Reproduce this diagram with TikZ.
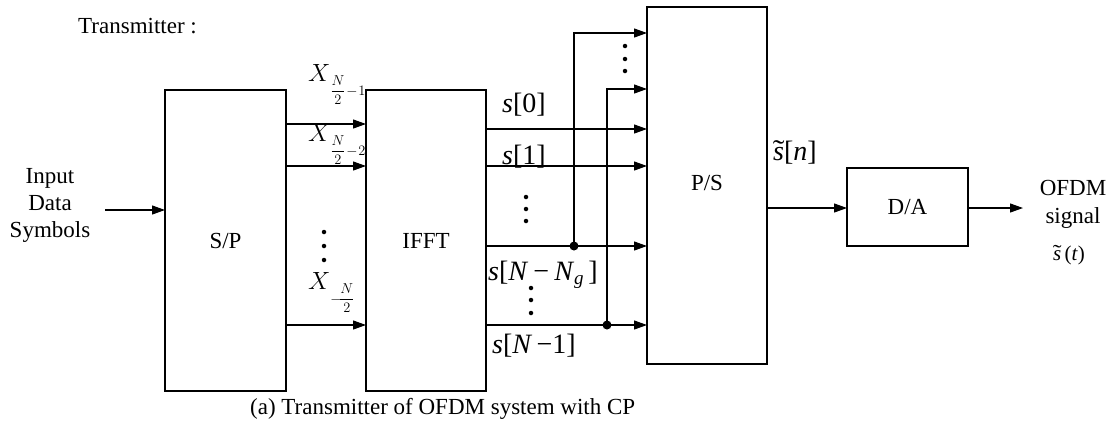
\documentclass[tikz,border=0pt]{standalone}
\usepackage{fontspec}
\usepackage{graphicx}
\setmainfont{Liberation Serif}
\usetikzlibrary{arrows.meta}
\newcommand{\fracsub}[1]{\raisebox{-14pt}{\fontsize{14}{15}\selectfont$\displaystyle #1$}}
\newcommand{\tils}{\ooalign{\textit{s}\cr\hidewidth\raisebox{0.02em}{\scalebox{1.25}[1]{\char"02DC}}\hidewidth\cr}}
\begin{document}
\begin{tikzpicture}[x=1pt,y=-1pt,
  blk/.style={draw, line width=1.3pt, inner sep=0pt, outer sep=0pt, font=\fontsize{23}{27}\selectfont},
  arr/.style={draw, line width=1.2pt, -{Triangle[length=13pt,width=9pt]}},
  ln/.style={draw, line width=1.2pt},
  jdot/.style={circle, fill, inner sep=0pt, minimum size=9pt},
  sdot/.style={circle, fill, inner sep=0pt, minimum size=4.5pt},
  txt/.style={font=\fontsize{23}{27}\selectfont, inner sep=0pt},
  slab/.style={font=\fontsize{28}{32}\selectfont, inner sep=0pt, anchor=base west}]
\useasboundingbox (0,0) rectangle (1118,421);

% blocks
\node[blk, minimum width=121pt, minimum height=301pt] (sp)   at (225.5,240.5) {S/P};
\node[blk, minimum width=120pt, minimum height=301pt] (ifft) at (426,240.5) {IFFT};
\node[blk, minimum width=120pt, minimum height=357pt] (ps)   at (707,185.5) {};
\node[txt] (pslab) at (707,183) {P/S};
\node[blk, minimum width=121pt, minimum height=78pt]  (da)   at (907.5,207) {D/A};

% level coordinates
\coordinate (yin) at (0,210);
\coordinate (ya) at (0,124);
\coordinate (yb) at (0,166);
\coordinate (yc) at (0,325);
\coordinate (y0) at (0,129);
\coordinate (y1) at (0,166);
\coordinate (yg) at (0,246);
\coordinate (yn) at (0,325);
\coordinate (yt1) at (0,33);
\coordinate (yt2) at (0,89);
\coordinate (yout) at (0,208);

% input
\coordinate (inA) at (105,210);
\node[txt, align=center] (intext) at (50,205) {Input\\Data\\Symbols};
\draw[arr] (inA) -- (sp.west |- yin);

% S/P -> IFFT
\draw[arr] (sp.east |- ya) -- (ifft.west |- ya);
\draw[arr] (sp.east |- yb) -- (ifft.west |- yb);
\draw[arr] (sp.east |- yc) -- (ifft.west |- yc);
\node[txt, anchor=base west] (xl1) at (308,81) {$X$\fracsub{\frac{N}{2}\!-\!1}};
\node[txt, anchor=base west] (xl2) at (308,141) {$X$\fracsub{\frac{N}{2}\!-\!2}};
\node[txt, anchor=base west] (xl3) at (308,289) {$X$\fracsub{-\!\frac{N}{2}}};
\node[sdot] (d1) at (324,232) {};
\node[sdot] (d2) at (324,246) {};
\node[sdot] (d3) at (324,260) {};

% IFFT -> P/S
\draw[arr] (ifft.east |- y0) -- (ps.west |- y0);
\draw[arr] (ifft.east |- y1) -- (ps.west |- y1);
\draw[arr] (ifft.east |- yg) -- (ps.west |- yg);
\draw[arr] (ifft.east |- yn) -- (ps.west |- yn);
\node[jdot] (j1) at (574,246) {};
\node[jdot] (j2) at (607,325) {};
\draw[arr] (j1.center) -- (j1.center |- yt1) -- (ps.west |- yt1);
\draw[arr] (j2.center) -- (j2.center |- yt2) -- (ps.west |- yt2);

\node[slab] (s0) at (502,112) {\textit{s}[0]};
\node[slab] (s1) at (502,164) {\textit{s}[1]};
\node[slab] (sg) at (488,280) {\textit{s}[\textit{N}\hspace{0.18em}−\hspace{0.18em}\textit{N}\raisebox{-0.35ex}{\fontsize{19}{19}\selectfont\textit{g}}\,]};
\node[slab] (sn) at (492,353) {\textit{s}[\textit{N}\hspace{0.15em}−1]};

\node[sdot] (e1) at (526,197) {};
\node[sdot] (e2) at (526,209) {};
\node[sdot] (e3) at (526,221) {};
\node[sdot] (f1) at (531,288) {};
\node[sdot] (f2) at (531,300) {};
\node[sdot] (f3) at (531,313) {};
\node[sdot] (g1) at (625,46) {};
\node[sdot] (g2) at (625,59) {};
\node[sdot] (g3) at (625,71) {};

% P/S -> D/A -> out
\draw[arr] (ps.east |- yout) -- (da.west |- yout);
\node[slab] (stn) at (773,160) {\tils[\textit{n}]};
\coordinate (outA) at (1023,208);
\draw[arr] (da.east |- yout) -- (outA);
\node[txt, anchor=base] (o1) at (1073,195) {OFDM};
\node[txt, anchor=base] (o2) at (1073,223) {signal};
\node[txt, anchor=base, font=\fontsize{21}{25}\selectfont] (o3) at (1069,260) {\tils\,(\textit{t})};

% titles
\node[txt, anchor=base west] (title) at (78,33) {Transmitter :};
\node[txt, anchor=base west] (cap) at (250,414) {(a) Transmitter of OFDM system with CP};
\end{tikzpicture}
\end{document}
